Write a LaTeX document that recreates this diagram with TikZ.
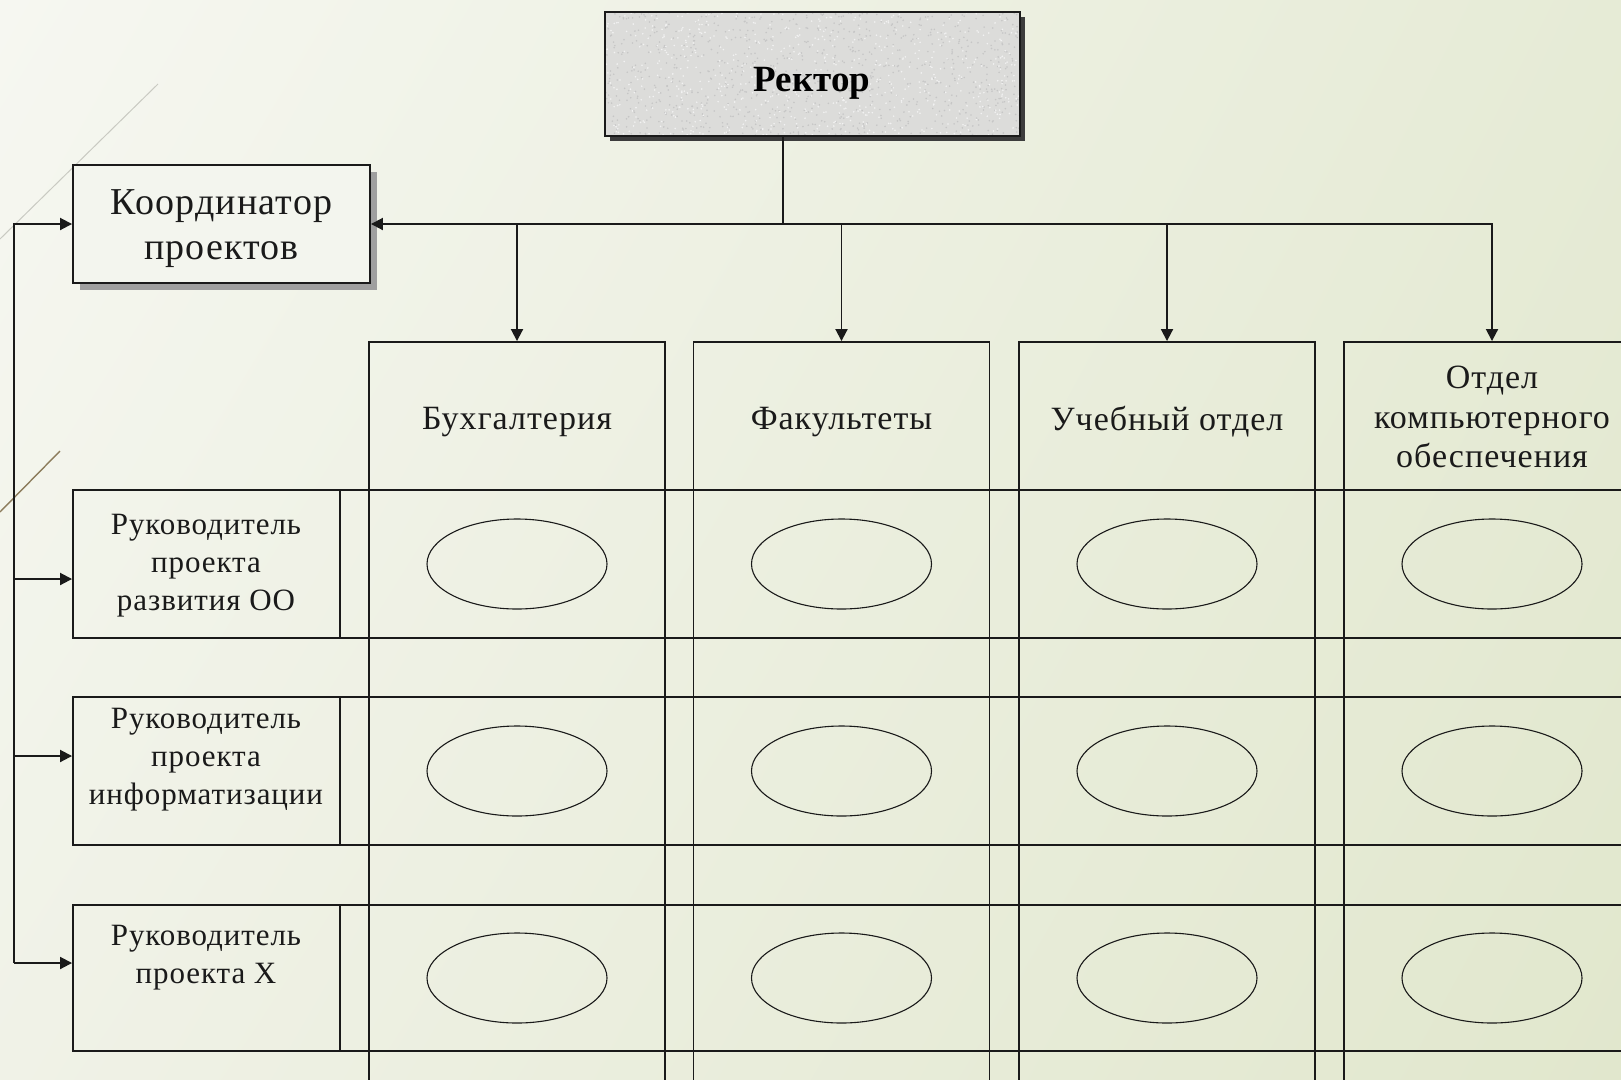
\documentclass[tikz,border=0pt]{standalone}
\usepackage{fontspec}
\newfontfamily\labelfont[LetterSpace=3]{Liberation Serif}
\newfontfamily\titlefont{Liberation Serif}
\usetikzlibrary{arrows.meta,shapes.geometric,shadows,shadings,calc}

\definecolor{ink}{HTML}{1A1A1A}
\definecolor{bgA}{HTML}{F6F7F1}
\definecolor{bgB}{HTML}{E6EBD6}
\definecolor{bgC}{HTML}{F0F2E7}
\definecolor{bgD}{HTML}{E1E7CD}
\definecolor{boxbg}{HTML}{F3F5EE}
\definecolor{granite}{HTML}{DCDCDA}
\definecolor{deco1}{HTML}{C9CAC2}
\definecolor{deco2}{HTML}{8C7C5C}

\begin{document}
\begin{tikzpicture}[x=1pt,y=-1pt,
  line/.style={draw=ink, line width=1.9pt},
  arr/.style={line, -{Triangle[length=12pt,width=12pt]}},
  band/.style={rectangle, draw=ink, line width=1.9pt, inner sep=0pt},
  cell/.style={ellipse, draw=ink, line width=1.1pt, minimum width=180pt,
    minimum height=90pt, inner sep=0pt},
  lbl/.style={font={\labelfont\fontsize{31}{38}\selectfont}, text=ink,
    align=center, inner sep=0pt},
  hdrtxt/.style={font={\labelfont\fontsize{34}{39.5}\selectfont}, text=ink,
    align=center},
  cotxt/.style={font={\labelfont\fontsize{38}{45}\selectfont}, text=ink,
    align=center}
]
\useasboundingbox (0,0) rectangle (1621,1079);
\shade[upper left=bgA, upper right=bgB, lower left=bgC, lower right=bgD]
  (0,0) rectangle (1621,1079);

\begin{scope}
\clip (0,0) rectangle (1621,1079);

% decorative strokes at the left edge
\draw[deco1, line width=1pt] (158,84) -- (0,239);
\draw[deco2, line width=1.4pt] (60,451) -- (0,512);

% rector with granite texture
\pgfmathsetseed{12}
\node[band, fill=granite, minimum width=415pt, minimum height=124pt,
  drop shadow={shadow xshift=5pt, shadow yshift=-5pt, fill=ink!85, opacity=1},
  path picture={
    \foreach \i in {1,...,900}
      \fill[gray!45] ($(path picture bounding box.center)+({210*rand},{64*rand})$) circle (0.9);
    \foreach \i in {1,...,700}
      \fill[white!90!gray] ($(path picture bounding box.center)+({210*rand},{64*rand})$) circle (0.9);
  }] (rector) at (812.5,74) {};
\node[font={\titlefont\bfseries\fontsize{37}{40}\selectfont}, text=black]
  (rectorlbl) at (812,83) {Ректор};

% project coordinator
\node[band, fill=boxbg, minimum width=297pt, minimum height=118pt,
  drop shadow={shadow xshift=7pt, shadow yshift=-7pt, fill=gray!75, opacity=1}]
  (coord) at (221.5,224) {};
\node[cotxt] (coordlbl) at (221.5,229) {Координатор\\проектов};

% matrix: row bands and column bands
\node[band, minimum width=1700pt, minimum height=148pt] (row1) at (923,564) {};
\node[band, minimum width=1700pt, minimum height=148pt] (row2) at (923,771) {};
\node[band, minimum width=1700pt, minimum height=146pt] (row3) at (923,978) {};

\node[band, minimum width=296pt, minimum height=900pt] (col1) at (517,792) {};
\node[band, minimum width=296pt, minimum height=900pt] (col2) at (841.5,792) {};
\node[band, minimum width=296pt, minimum height=900pt] (col3) at (1167,792) {};
\node[band, minimum width=296pt, minimum height=900pt] (col4) at (1492,792) {};

% column headers
\foreach \k/\x in {1/517, 2/841.5, 3/1167, 4/1492}
  \node[band, minimum width=296pt, minimum height=148pt] (hdr\k) at (\x,416) {};
\node[hdrtxt] (h1) at (517,422) {Бухгалтерия};
\node[hdrtxt] (h2) at (841.5,422) {Факультеты};
\node[hdrtxt] (h3) at (1167,422) {Учебный отдел};
\node[hdrtxt] (h4) at (1492,417) {Отдел\\компьютерного\\обеспечения};

% row label separators
\foreach \r in {1,2,3}
  \draw[line] (340,0 |- row\r.north) -- (340,0 |- row\r.south);

% row labels
\node[lbl] (lab1) at (206,566) {Руководитель\\проекта\\развития ОО};
\node[lbl] (lab2) at (206,760) {Руководитель\\проекта\\информатизации};
\node[lbl] (lab3) at (206,958) {Руководитель\\проекта X};

% cells
\foreach \r in {1,2,3}
  \foreach \c in {1,2,3,4}
    \node[cell] (e\r\c) at (col\c |- row\r) {};

% rector bus
\coordinate (jr) at (783,224);
\draw[line] (rector.south -| jr) -- (jr);
\draw[arr] (jr) -- (coord.east);
\draw[arr] (jr) -- (hdr4.north |- jr) -- (hdr4.north);
\foreach \k in {1,2,3}
  \draw[arr] (hdr\k.north |- jr) -- (hdr\k.north);

% coordinator bus
\coordinate (lb0) at (14,224);
\coordinate (lb1) at (14,579);
\coordinate (lb2) at (14,756);
\coordinate (lb3) at (14,963);
\draw[arr] (lb3) -- (lb0) -- (coord.west);
\draw[arr] (lb1) -- (lb1 -| row1.west);
\draw[arr] (lb2) -- (lb2 -| row2.west);
\draw[arr] (lb3) -- (lb3 -| row3.west);
\end{scope}
\end{tikzpicture}
\end{document}
